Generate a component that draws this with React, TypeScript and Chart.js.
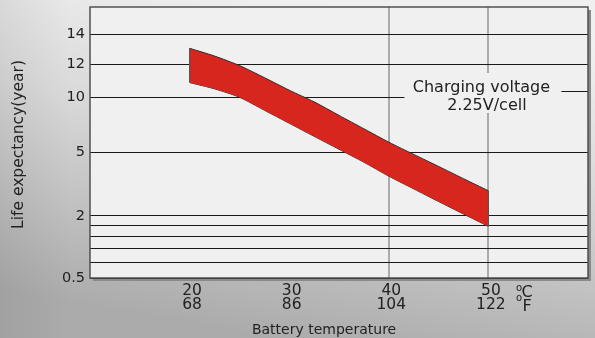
import React, { useEffect, useRef } from 'react';
import { Chart, registerables, LinearScale } from 'chart.js';

// Battery temperature (°C) at which the service-life band is sampled
const TEMP_C = [20, 22.5, 25, 27.5, 30, 32.5, 35, 37.5, 40, 42.5, 45, 47.5, 50];
// Upper and lower edge of the expected-life band (years)
const LIFE_UPPER = [13.06, 12.54, 11.91, 11.18, 10.42, 9.57, 8.35, 7.14, 5.93, 4.91, 4.34, 3.76, 3.19];
const LIFE_LOWER = [10.88, 10.5, 9.99, 8.82, 7.64, 6.46, 5.29, 4.54, 3.88, 3.28, 2.68, 2.09, 1.75];

// Temperature axis ticks
const TEMP_TICKS_C = [20, 30, 40, 50];
const TEMP_LABELS_C = ['20', '30', '40', '50'];
const TEMP_LABELS_F = ['68', '86', '104', '122'];

// Life axis ticks (unlabelled ones are plain rule lines)
const LIFE_TICKS = [0.5, 0.87, 1.2, 1.5, 1.77, 2, 5, 10, 12, 14];
const LIFE_TICK_LABELS = ['0.5', '', '', '', '', '2', '5', '10', '12', '14'];

// Life axis is non-uniform: each stop value sits at a share of the axis height (from the bottom)
const LIFE_STOP_VALUES = [0.5, 0.87, 1.2, 1.5, 1.77, 2, 5, 10, 12, 14, 16];
const LIFE_STOP_SHARES = [0, 0.0569, 0.1086, 0.1529, 0.1936, 0.229, 0.4632, 0.6675, 0.7894, 0.8992, 1];

const FONT = 'DejaVu Sans';
const TEXT = '#222222';

function lifeToShare(v: number): number {
  const vs = LIFE_STOP_VALUES;
  const ss = LIFE_STOP_SHARES;
  let i = 1;
  while (i < vs.length - 1 && v > vs[i]) i++;
  const t = (v - vs[i - 1]) / (vs[i] - vs[i - 1]);
  return ss[i - 1] + t * (ss[i] - ss[i - 1]);
}

function shareToLife(s: number): number {
  const vs = LIFE_STOP_VALUES;
  const ss = LIFE_STOP_SHARES;
  let i = 1;
  while (i < ss.length - 1 && s > ss[i]) i++;
  const t = (s - ss[i - 1]) / (ss[i] - ss[i - 1]);
  return vs[i - 1] + t * (vs[i] - vs[i - 1]);
}

// Linear scale with piecewise-linear placement of values
class PiecewiseLifeScale extends LinearScale {
  static id = 'piecewiseLife';
  getPixelForValue(value: number) {
    return this.getPixelForDecimal(lifeToShare(value));
  }
  getValueForPixel(pixel: number) {
    return shareToLife(this.getDecimalForPixel(pixel));
  }
}

Chart.register(...registerables, PiecewiseLifeScale);

const decorPlugin = {
  id: 'batteryDecor',
  beforeDraw(chart: any) {
    const { ctx, chartArea: a, width, height } = chart;
    ctx.save();
    const g = ctx.createLinearGradient(width * 0.55, 0, width * 0.45, height);
    g.addColorStop(0, '#f0f0f0');
    g.addColorStop(0.4, '#d9d9d9');
    g.addColorStop(1, '#ababab');
    ctx.fillStyle = g;
    ctx.fillRect(0, 0, width, height);
    // slightly darker left edge
    const h = ctx.createLinearGradient(0, 0, 70, 0);
    h.addColorStop(0, 'rgba(0,0,0,0.06)');
    h.addColorStop(1, 'rgba(0,0,0,0)');
    ctx.fillStyle = h;
    ctx.fillRect(0, 0, 70, height);
    // plot panel with drop shadow
    ctx.fillStyle = '#8a8a8a';
    ctx.fillRect(a.left + 3, a.top + 3, a.right - a.left, a.bottom - a.top);
    ctx.fillStyle = '#f0f0f0';
    ctx.fillRect(a.left, a.top, a.right - a.left, a.bottom - a.top);
    ctx.restore();
  },
  afterDatasetsDraw(chart: any) {
    const { ctx, chartArea: a } = chart;
    const xs = chart.scales.x;
    const up = chart.getDatasetMeta(0).data;
    const lo = chart.getDatasetMeta(1).data;
    ctx.save();
    // band end caps
    ctx.strokeStyle = '#555555';
    ctx.lineWidth = 1.2;
    [0, up.length - 1].forEach((i) => {
      ctx.beginPath();
      ctx.moveTo(up[i].x, up[i].y);
      ctx.lineTo(lo[i].x, lo[i].y);
      ctx.stroke();
    });
    // charging-voltage note
    const x50 = xs.getPixelForValue(50);
    ctx.fillStyle = '#f0f0f0';
    ctx.fillRect(x50 - 84, 73, a.right - (x50 - 84), 40);
    ctx.strokeStyle = '#1a1a1a';
    ctx.lineWidth = 1;
    ctx.beginPath();
    ctx.moveTo(x50 + 73, 91.5);
    ctx.lineTo(a.right, 91.5);
    ctx.stroke();
    ctx.fillStyle = TEXT;
    ctx.font = `16px "${FONT}"`;
    ctx.textAlign = 'center';
    ctx.textBaseline = 'alphabetic';
    ctx.fillText('Charging voltage', x50 - 7, 92);
    ctx.fillText('2.25V/cell', x50 - 1.5, 110);
    ctx.restore();
  },
  afterDraw(chart: any) {
    const { ctx, chartArea: a } = chart;
    const xs = chart.scales.x;
    ctx.save();
    // panel frame
    ctx.strokeStyle = '#505050';
    ctx.lineWidth = 1.5;
    ctx.strokeRect(a.left, a.top, a.right - a.left, a.bottom - a.top);

    // unit marks next to the last temperature tick
    const x50 = xs.getPixelForValue(50);
    ctx.fillStyle = TEXT;
    ctx.textAlign = 'left';
    ctx.textBaseline = 'alphabetic';
    ctx.font = `16px "${FONT}"`;
    ctx.fillText('C', x50 + 33, 297);
    ctx.fillText('F', x50 + 34, 311);
    ctx.font = `10px "${FONT}"`;
    ctx.fillText('o', x50 + 27.5, 290.5);
    ctx.fillText('o', x50 + 27.5, 301);

    // axis titles
    ctx.font = `14px "${FONT}"`;
    ctx.textAlign = 'center';
    ctx.fillText('Battery temperature', xs.getPixelForValue(33.5), 334);
    ctx.font = `15.5px "${FONT}"`;
    ctx.translate(23, (a.top + a.bottom) / 2 + 2);
    ctx.rotate(-Math.PI / 2);
    ctx.fillText('Life expectancy(year)', 0, 0);
    ctx.restore();
  },
};

export default function App() {
  const canvasRef = useRef<HTMLCanvasElement | null>(null);

  useEffect(() => {
    if (!canvasRef.current) return;
    const chart = new Chart(canvasRef.current, {
      type: 'line',
      data: {
        datasets: [
          {
            data: TEMP_C.map((t, i) => ({ x: t, y: LIFE_UPPER[i] })),
            borderColor: '#3a2a2a',
            borderWidth: 1,
            backgroundColor: '#d7261e',
            fill: '+1',
            pointRadius: 0,
            tension: 0.25,
          },
          {
            data: TEMP_C.map((t, i) => ({ x: t, y: LIFE_LOWER[i] })),
            borderColor: '#3a2a2a',
            borderWidth: 1,
            backgroundColor: '#d7261e',
            fill: false,
            pointRadius: 0,
            tension: 0.25,
          },
        ],
      },
      options: {
        responsive: false,
        maintainAspectRatio: false,
        devicePixelRatio: 1,
        animation: false,
        layout: { padding: { top: 7, right: 7, left: 0, bottom: 0 } },
        plugins: { legend: { display: false }, tooltip: { enabled: false } },
        scales: {
          x: {
            type: 'linear',
            position: 'bottom',
            min: 10,
            max: 60,
            afterBuildTicks: (scale: any) => {
              scale.ticks = TEMP_TICKS_C.map((v) => ({ value: v }));
            },
            afterFit: (scale: any) => {
              scale.height = 60;
              scale.paddingLeft = 0;
              scale.paddingRight = 0;
            },
            grid: {
              drawTicks: false,
              lineWidth: 2,
              color: (c: any) => (c.tick && c.tick.value >= 40 ? '#ababab' : 'rgba(0,0,0,0)'),
            },
            border: { display: false },
            ticks: {
              autoSkip: false,
              maxRotation: 0,
              padding: 6,
              labelOffset: 2.5,
              color: TEXT,
              font: { family: FONT, size: 15.5, lineHeight: '14px' },
              callback: (_v: any, i: number) => [TEMP_LABELS_C[i], TEMP_LABELS_F[i]],
            },
          },
          y: {
            type: 'piecewiseLife',
            position: 'left',
            min: 0.5,
            max: 16,
            afterBuildTicks: (scale: any) => {
              scale.ticks = LIFE_TICKS.map((v) => ({ value: v }));
            },
            afterFit: (scale: any) => {
              scale.width = 90;
              scale.paddingTop = 0;
              scale.paddingBottom = 0;
            },
            grid: { drawTicks: false, lineWidth: 1, color: '#1a1a1a' },
            border: { display: false },
            ticks: {
              autoSkip: false,
              padding: 5,
              color: TEXT,
              font: { family: FONT, size: 14.5 },
              callback: (_v: any, i: number) => LIFE_TICK_LABELS[i],
            },
          },
        },
      },
      plugins: [decorPlugin],
    } as any);
    return () => chart.destroy();
  }, []);

  return (
    <div style={{ position: 'fixed', left: 0, top: 0, width: 595, height: 338 }}>
      <canvas ref={canvasRef} width={595} height={338} style={{ display: 'block', width: 595, height: 338 }} />
    </div>
  );
}
